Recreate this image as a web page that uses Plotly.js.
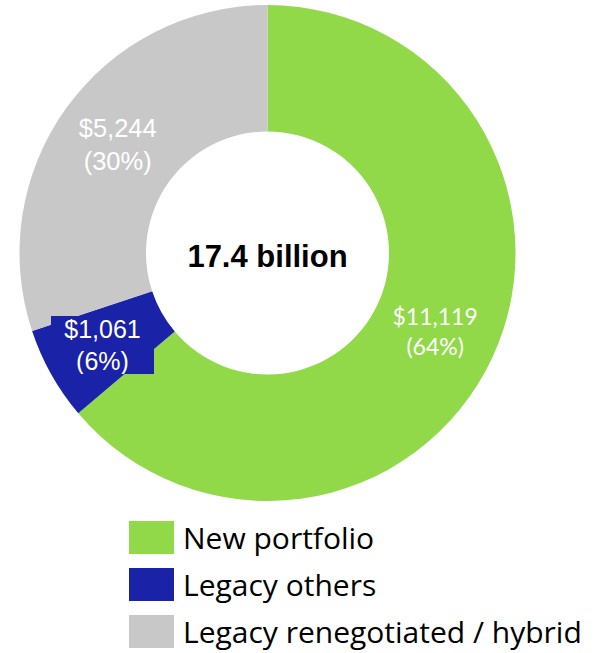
<!DOCTYPE html>
<html><head><meta charset="utf-8">
<script src="https://cdn.plot.ly/plotly-3.0.1.min.js"></script>
<style>html,body{margin:0;padding:0;background:#fff}#chart{width:613px;height:653px}</style>
</head><body><div id="chart"></div>
<script>
// ---- data ----
const labels = ['New portfolio', 'Legacy others', 'Legacy renegotiated / hybrid'];
const values = [11119, 1061, 5244];
const colors = ['#92D94A', '#1A22A8', '#C8C8C8'];
const labelFonts = ['Lato', 'Liberation Sans', 'Liberation Sans'];

// ---- geometry / style ----
const W = 613, H = 653;
const CX = 267.5, CY = 253, R = 248, HOLE = 0.49;
const BOXED_IDX = 1; // small slice: label drawn in a coloured box

const total = values.reduce((a, b) => a + b, 0);
const pct = values.map(v => Math.round(v / total * 100));
const fmt = v => '$' + v.toLocaleString('en-US');
const texts = values.map((v, i) => fmt(v) + '<br>(' + pct[i] + '%)');

const domain = {x: [(CX - R) / W, (CX + R) / W], y: [1 - (CY + R) / H, 1 - (CY - R) / H]};

const trace = {
  type: 'pie',
  labels: labels,
  values: values,
  text: texts,
  textinfo: 'text',
  hoverinfo: 'label+value+percent',
  textposition: labels.map((_, i) => i === BOXED_IDX ? 'none' : 'inside'),
  insidetextorientation: 'horizontal',
  textfont: {color: '#ffffff', size: labels.map((_, i) => i === 0 ? 23 : 25.5), family: labelFonts},
  marker: {colors: colors, line: {width: 0}},
  hole: HOLE,
  sort: false,
  direction: 'clockwise',
  rotation: 0,
  domain: domain,
  showlegend: false,
  title: {
    text: '<b>' + (total / 1000).toFixed(1) + ' billion</b>',
    position: 'middle center',
    font: {family: 'Liberation Sans, Arial, sans-serif', size: 31, color: '#000000'}
  }
};

// boxed label for the small slice, placed at the slice's mid-angle
let before = 0;
for (let i = 0; i < BOXED_IDX; i++) before += values[i];
const theta = 2 * Math.PI * (before + values[BOXED_IDX] / 2) / total;
const rMid = R * (1 + HOLE) / 2 + 4;
const bx = CX + rMid * Math.sin(theta), by = CY - rMid * Math.cos(theta);

const annotations = [{
  xref: 'paper', yref: 'paper', x: bx / W, y: 1 - by / H,
  xanchor: 'center', yanchor: 'middle', showarrow: false,
  text: texts[BOXED_IDX], bgcolor: colors[BOXED_IDX], borderpad: 0, borderwidth: 0,
  width: 103, height: 58,
  font: {family: labelFonts[BOXED_IDX], size: 25, color: '#ffffff'}
}];

// legend (swatch + label) built from labels/colors
const SW_X0 = 129, SW_X1 = 174, SW_H = 33, ROW0 = 537.5, ROW_GAP = 47, TEXT_X = 181;
const shapes = [];
labels.forEach((lab, i) => {
  const yc = ROW0 + i * ROW_GAP;
  shapes.push({type: 'rect', xref: 'paper', yref: 'paper',
    x0: SW_X0 / W, x1: SW_X1 / W, y0: 1 - (yc + SW_H / 2) / H, y1: 1 - (yc - SW_H / 2) / H,
    fillcolor: colors[i], line: {width: 0}});
  annotations.push({xref: 'paper', yref: 'paper', x: TEXT_X / W, y: 1 - yc / H,
    xanchor: 'left', yanchor: 'middle', showarrow: false, text: lab,
    font: {family: 'Open Sans, sans-serif', size: 30, color: '#000000'}});
});

const layout = {
  width: W, height: H,
  margin: {l: 0, r: 0, t: 0, b: 0},
  paper_bgcolor: '#ffffff', plot_bgcolor: '#ffffff',
  showlegend: false,
  annotations: annotations,
  shapes: shapes
};

Plotly.newPlot('chart', [trace], layout, {displayModeBar: false});
</script>
</body></html>
